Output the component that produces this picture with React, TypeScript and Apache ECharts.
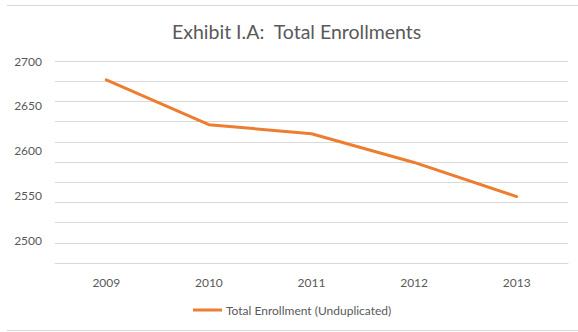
import React, { useEffect, useRef } from "react";
import * as echarts from "echarts";

const titleText = "Exhibit I.A:  Total Enrollments";
const seriesName = "Total Enrollment (Unduplicated)";
const years = ["2009", "2010", "2011", "2012", "2013"];
const enrollments = [2679, 2629, 2619, 2587, 2549];
const yMin = 2475;
const yMax = 2700;

export default function App() {
  const ref = useRef<HTMLDivElement>(null);
  useEffect(() => {
    if (!ref.current) return;
    const chart = echarts.init(ref.current, null, { renderer: "svg" });
    const font = "Lato";
    chart.setOption({
      animation: false,
      backgroundColor: "#ffffff",
      title: {
        text: titleText,
        left: 172,
        top: 21,
        padding: 0,
        textStyle: { fontFamily: font, fontSize: 19.5, fontWeight: "normal", color: "#595959" },
      },
      legend: {
        data: [seriesName],
        left: 193,
        top: 304,
        padding: 0,
        icon: "rect",
        itemWidth: 29,
        itemHeight: 3,
        itemGap: 5,
        textStyle: { fontFamily: font, fontSize: 12, color: "#595959", padding: [0, 0, 0, -1] },
      },
      grid: { left: 55, right: 10, top: 61, bottom: 69, containLabel: false },
      xAxis: {
        type: "category",
        data: years,
        boundaryGap: true,
        axisLine: { show: true, lineStyle: { color: "#d9d9d9", width: 1 } },
        axisTick: { show: false },
        axisLabel: { margin: 13, fontFamily: font, fontSize: 12, color: "#595959" },
      },
      yAxis: [
        {
          type: "value",
          min: yMin,
          max: yMax,
          interval: 22.5,
          axisLine: { show: false },
          axisTick: { show: false },
          axisLabel: { show: false },
          splitLine: { show: true, lineStyle: { color: "#d9d9d9", width: 1 } },
        },
        {
          type: "value",
          position: "left",
          min: yMin,
          max: yMax,
          interval: 25,
          axisLine: { show: false },
          axisTick: { show: false },
          splitLine: { show: false },
          axisLabel: {
            margin: 13,
            fontFamily: font,
            fontSize: 12,
            color: "#595959",
            formatter: (v: number) => (v % 50 === 0 ? String(v) : ""),
          },
        },
      ],
      series: [
        {
          name: seriesName,
          type: "line",
          yAxisIndex: 0,
          data: enrollments,
          symbol: "none",
          lineStyle: { color: "#ED7D31", width: 3, cap: "round", join: "round" },
          itemStyle: { color: "#ED7D31" },
        },
      ],
      graphic: [
        { type: "line", shape: { x1: 7, y1: 5.5, x2: 578, y2: 5.5 }, style: { stroke: "#d9d9d9", lineWidth: 1 } },
        { type: "line", shape: { x1: 7, y1: 330.5, x2: 578, y2: 330.5 }, style: { stroke: "#d9d9d9", lineWidth: 1 } },
      ],
    });
    return () => chart.dispose();
  }, []);
  return <div ref={ref} style={{ width: 578, height: 332, position: "absolute", left: 0, top: 0 }} />;
}
